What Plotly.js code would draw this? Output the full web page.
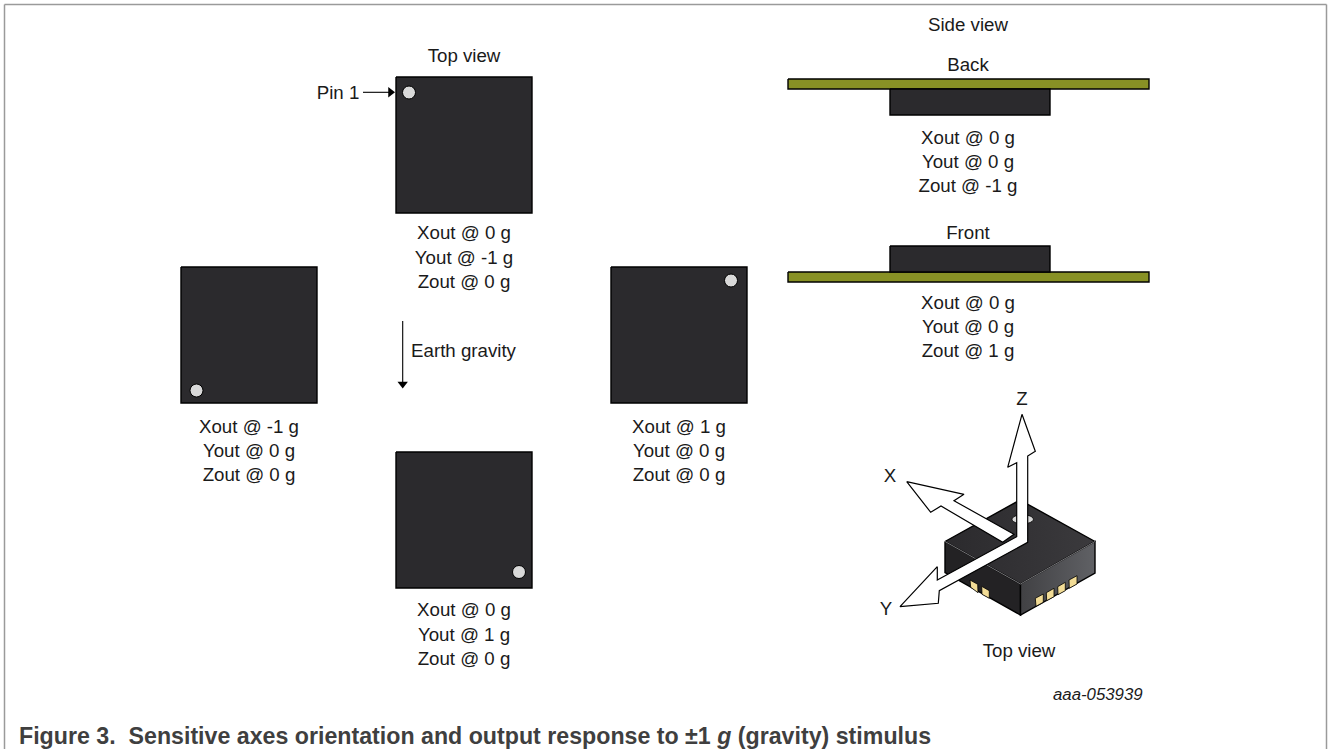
<!DOCTYPE html>
<html><head><meta charset="utf-8">
<script src="https://cdn.plot.ly/plotly-3.0.1.min.js"></script>
<style>html,body{margin:0;padding:0;background:#fff}#c{width:1328px;height:749px}</style>
</head><body><div id="c"></div>
<script>
// Square device views: [left, right, top, bottom]
const deviceViews = [[396,532,77,213],[181,317,267,403],[611,747,267,403],[396,532,452,588]];
const pin1X = [409,196.5,731,519];
const pin1Y = [92.5,390.5,280.5,572];
// Side views
const boardRects = [[788,1149,79,89],[788,1149,272,282]];
const sideChips = [[890,1050,89,115],[890,1050,246,272]];
// Text
const labelText = ["Top view","Side view","Back","Front","Top view","Pin 1","Earth gravity","Z","X","Y",
  "Xout @ 0 g<br>Yout @ -1 g<br>Zout @ 0 g",
  "Xout @ -1 g<br>Yout @ 0 g<br>Zout @ 0 g",
  "Xout @ 1 g<br>Yout @ 0 g<br>Zout @ 0 g",
  "Xout @ 0 g<br>Yout @ 1 g<br>Zout @ 0 g",
  "Xout @ 0 g<br>Yout @ 0 g<br>Zout @ -1 g",
  "Xout @ 0 g<br>Yout @ 0 g<br>Zout @ 1 g"];
const labelX = [464,968,968,968,1019,338,463.5,1022,890,886,464,249,679,464,968,968];
const labelY = [57,26,66,234,652,94,352,400,477,610,259,452.5,452.5,636,163.5,328.5];
// Package outline
const topFaceX = [945,1020,1095,1020.5,945];
const topFaceY = [541.5,500,541.5,584,541.5];
const leftFaceX = [945,1020.5,1020.5,945,945];
const leftFaceY = [541.5,584,615,572.5,541.5];
const rightFaceX = [1020.5,1095,1095,1020.5,1020.5];
const rightFaceY = [584,541.5,573,615,584];
const padsX = [[1035.3,1043.3,1043.3,1036,1035.3],[1046.3,1054,1054,1046.7,1046.3],[1057.7,1065.3,1065.3,1058,1057.7],[1069,1077,1077,1069.3,1069],
               [970,977.7,978,970.7,970],[981.7,989.3,989.3,982,981.7]];
const padsY = [[598.3,594,602.3,606.3,598.3],[592.7,588.3,596.7,600.7,592.7],[586.7,582.3,590.7,594.7,586.7],[580,575.7,584,588.3,580],
               [580,584.3,592.7,587.3,580],[586.3,590.7,598.3,594.3,586.3]];
const pinEllipseX = [1033.4,1032,1028,1022.7,1017.3,1013.4,1012,1013.4,1017.3,1022.7,1028,1032,1033.4];
const pinEllipseY = [519.3,521.5,523.2,523.8,523.2,521.5,519.3,517,515.4,514.8,515.4,517,519.3];
// Axes arrows
const xArrowX = [906.7,964,954,1014,1002.7,941,930.7,906.7];
const xArrowY = [481.7,494.3,500.7,534.3,542.3,506,512.3,481.7];
const yzArrowX = [1022,1035.3,1027.7,1027.7,939.3,938.3,900,937.3,937.3,1016.7,1016.7,1007.7,1022];
const yzArrowY = [414.3,451.3,456,542.3,590.7,603.3,606.7,566.7,580,536.7,462.7,467.3,414.3];
// Leader lines: x0,y0,x1,y1
const pinLeader = [363,92.3,390,92.3];
const gravityLeader = [402.7,321,402.7,384];
const headX = [390.5,402.7];
const headY = [92.3,384];

const rx = r => [r[0],r[1],r[1],r[0],r[0]];
const ry = r => [r[2],r[2],r[3],r[3],r[2]];
const poly = (x,y,fill,w,extra) => Object.assign({type:'scatter',mode:'lines',x,y,fill:'toself',fillcolor:fill,
  line:{color:'#000',width:w===undefined?1.2:w},hoverinfo:'skip',showlegend:false},extra||{});
const seg = (x,y,w,c) => ({type:'scatter',mode:'lines',x,y,line:{color:c||'#000',width:w},hoverinfo:'skip',showlegend:false});

const traces = [];
deviceViews.forEach(r=>traces.push(poly(rx(r),ry(r),'#2b2a2d',1.4)));
traces.push({type:'scatter',mode:'markers',x:pin1X,y:pin1Y,hoverinfo:'skip',showlegend:false,
  marker:{size:13,color:'#d9d9d9',line:{color:'#000',width:1}}});
boardRects.forEach(r=>traces.push(poly(rx(r),ry(r),'#889125',1.4)));
sideChips.forEach(r=>traces.push(poly(rx(r),ry(r),'#2b2a2d',1.4)));
traces.push(poly(topFaceX,topFaceY,'#2e2d30',1.4,{fillgradient:{type:'horizontal',colorscale:[[0,'#2b2a2d'],[1,'#3b3a3d']]}}));
traces.push(poly(leftFaceX,leftFaceY,'#232224',1.4));
traces.push(poly(rightFaceX,rightFaceY,'#55565a',1.4,{fillgradient:{type:'horizontal',colorscale:[[0,'#414144'],[1,'#606165']]}}));
traces.push(seg(leftFaceX.slice(0,2),leftFaceY.slice(0,2),1,'#77777a'));
traces.push(seg(rightFaceX.slice(0,2),rightFaceY.slice(0,2),1,'#77777a'));
padsX.forEach((px,i)=>traces.push(poly(px,padsY[i],'#f2dc96',0.8)));
traces.push(poly(pinEllipseX,pinEllipseY,'#d9d9d9',0.8,{line:{color:'#000',width:0.8,shape:'spline'}}));
traces.push(poly(xArrowX,xArrowY,'#fff',1.2));
traces.push(poly(yzArrowX,yzArrowY,'#fff',1.2));
traces.push(seg([pinLeader[0],pinLeader[2]],[pinLeader[1],pinLeader[3]],1.1));
traces.push(seg([gravityLeader[0],gravityLeader[2]],[gravityLeader[1],gravityLeader[3]],1.1));
traces.push({type:'scatter',mode:'markers',x:headX,y:headY,hoverinfo:'skip',showlegend:false,
  marker:{size:9,color:'#000',symbol:['triangle-right','triangle-down'],line:{width:0}}});
traces.push({type:'scatter',mode:'text',x:labelX,y:labelY,text:labelText,textposition:'middle center',
  textfont:{family:'Liberation Sans, Arial, sans-serif',size:18.7,color:'#1a1a1a'},hoverinfo:'skip',showlegend:false});

const layout = {
  width:1328,height:749,margin:{l:0,r:0,t:0,b:0},paper_bgcolor:'#fff',plot_bgcolor:'#fff',
  xaxis:{range:[0,1328],visible:false,fixedrange:true},
  yaxis:{range:[749,0],visible:false,fixedrange:true},
  showlegend:false,
  annotations:[
    {x:1098,y:694,xref:'x',yref:'y',text:'<i>aaa-053939</i>',showarrow:false,font:{family:'Liberation Sans, Arial',size:16.8,color:'#1a1a1a'}},
    {x:17,y:736,xref:'x',yref:'y',xanchor:'left',text:'<b>Figure 3.  Sensitive axes orientation and output response to ±1 <i>g</i> (gravity) stimulus</b>',showarrow:false,font:{family:'Liberation Sans, Arial',size:23.2,color:'#3f3f3f'}}
  ],
  shapes:[
    {type:'line',xref:'x',yref:'y',x0:4.5,x1:4.5,y0:4.5,y1:749,line:{color:'#9a9a9a',width:1.5}},
    {type:'line',xref:'x',yref:'y',x0:1326.5,x1:1326.5,y0:4.5,y1:749,line:{color:'#9a9a9a',width:1.5}},
    {type:'line',xref:'x',yref:'y',x0:4.5,x1:1326.5,y0:4.5,y1:4.5,line:{color:'#9a9a9a',width:1.5}}
  ]
};
Plotly.newPlot('c',traces,layout,{displayModeBar:false,staticPlot:true});
</script></body></html>
